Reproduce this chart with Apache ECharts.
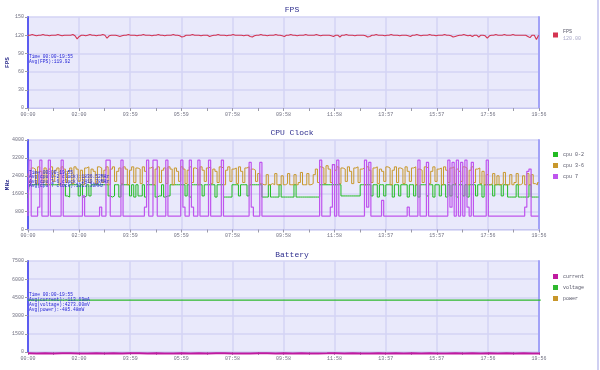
<!DOCTYPE html>
<html><head><meta charset="utf-8">
<script src="https://cdn.jsdelivr.net/npm/echarts@6/dist/echarts.min.js"></script>
<style>html,body{margin:0;padding:0;background:#fff}#c{width:600px;height:370px}</style>
</head><body><div id="c"></div>
<script>
const timeLabels = ['00:00','02:00','03:59','05:59','07:58','09:58','11:58','13:57','15:57','17:56','19:56'];
const totalSec = 1196;
const stepSec = 5;
const batteryStepSec = 20;

const fps = [
120,120,121,120,119,120,120,121,120,120,119,120,120,120,121,120,119,120,120,120,
120,121,119,114,118,120,120,119,120,121,120,120,119,120,120,121,120,115,119,120,
120,120,119,118,119,120,120,121,120,120,120,119,120,120,121,120,120,120,119,120,
120,121,120,120,119,120,120,120,121,120,120,119,117,118,120,120,120,121,120,120,
120,119,120,120,120,118,119,120,120,121,120,120,120,119,120,120,121,120,120,120,
120,119,120,120,118,117,119,120,120,121,120,120,119,120,120,120,121,120,120,119,
118,120,120,121,120,120,119,120,120,120,121,120,120,120,120,121,120,119,120,120,
120,120,119,118,120,120,117,120,120,121,120,120,120,119,120,120,120,120,119,117,
118,120,120,121,120,120,120,119,120,120,121,120,120,120,119,120,120,120,119,118,
120,120,121,120,119,120,120,120,121,120,120,119,120,120,120,121,120,120,119,117,
118,119,120,120,121,120,119,120,118,120,120,117,120,120,119,115,119,120,120,121,
120,120,120,121,120,120,120,121,120,120,120,120,120,120,118,116,120,120,113,120];

const cpu02 = [
1400,2000,2000,2000,2000,2000,2000,2000,2000,2000,2000,2000,2000,2000,2000,2000,2000,2000,1500,1450,
2000,2000,2000,2000,1500,2000,1450,1500,2000,1500,2000,2000,2000,2000,2000,2000,2000,2000,1500,1450,
1500,2000,2000,1450,2000,2000,2000,2000,1500,2000,1450,2000,1500,1500,2000,1450,2000,2000,2000,2000,
1450,1500,1500,2000,1450,1500,1500,2000,2000,2000,2000,2000,2000,2000,1500,2000,1450,2000,2000,2000,
2000,2000,1500,2000,2000,2000,2000,2000,1450,2000,2000,2000,1450,1450,1450,1450,2000,2000,2000,1500,
2000,2000,2000,1500,2000,2000,2000,2000,2000,2000,1450,1450,1450,2000,1450,1450,1450,1450,2000,1450,
1450,1450,1450,1450,1450,2000,1450,1450,1450,1450,1450,1450,1450,1450,1450,1450,1450,2000,2000,2000,
2000,2000,2000,2000,2000,2000,2000,1500,1500,1500,1500,1500,1500,1500,1500,1500,2000,2000,2000,2000,
2000,1500,2000,2000,1450,2000,2000,1500,2000,2000,2000,1450,2000,2000,1500,2000,2000,2000,1450,2000,
2000,1500,2000,1450,2000,2000,2000,1500,2000,2000,1450,2000,2000,1500,2000,2000,1450,2000,1500,2000,
2000,1450,2000,2000,1500,2000,1450,2000,2000,2000,1500,2000,2000,1450,2000,2000,2000,2000,1500,2000,
2000,2000,1500,2000,2000,1450,1450,1450,1450,2000,1450,1450,1450,1450,1450,2000,1450,1450,1450,1450];

const cpu36 = [
2500,2100,2750,2700,2050,2800,2600,2100,2750,2000,2700,2800,2150,2650,2750,2000,2800,2700,2100,2600,
2750,2050,2800,2700,2150,2650,2000,2750,2800,2100,2700,2600,2050,2800,2750,2100,2650,2800,2000,2700,
2800,2150,2600,2750,2050,2800,2700,2000,2650,2800,2100,2750,2700,2050,2800,2600,2150,2750,2800,2000,
2700,2800,2100,2650,2750,2050,2800,2700,2000,2750,2600,2150,2800,2700,2050,2650,2800,2100,2750,2700,
2000,2800,2650,2150,2750,2800,2050,2700,2600,2100,2800,2750,2000,2650,2800,2150,2700,2750,2050,2800,
2600,2100,2750,2800,2000,2700,2650,2150,2500,2050,2000,2000,2450,2000,2050,2000,2500,2000,2000,2400,
2000,2050,2500,2000,2000,2450,2000,2100,2550,2000,2000,2500,2000,2050,2450,2700,2100,2800,2750,2050,
2850,2700,2100,2900,2650,2800,2050,2750,2700,2150,2800,2600,2050,2750,2800,2100,2700,2750,2000,2800,
2650,2100,2750,2800,2050,2700,2600,2150,2800,2750,2000,2650,2800,2100,2750,2700,2050,2800,2600,2150,
2750,2800,2000,2700,2650,2100,2800,2750,2050,2600,2800,2150,2700,2750,2000,2800,2650,2100,2750,2800,
2050,2700,2600,2150,2800,2750,2000,2650,2800,2100,2700,2750,2050,2600,2000,2450,2000,2050,2500,2000,
2400,2000,2050,2550,2000,2000,2450,2000,2100,2500,2000,2050,2400,2000,2500,2000,2450,2050,2000,2100];

const cpu7 = [
600,3100,600,600,600,1000,3100,600,600,600,3100,600,600,600,600,600,3100,600,600,600,
600,600,600,600,600,600,1500,600,600,600,600,600,600,600,1000,600,600,3100,3100,600,
600,600,600,600,3100,600,600,600,600,600,600,600,600,600,600,1000,3100,600,600,3100,
3100,600,600,600,600,3100,600,600,600,600,600,600,3100,1000,600,600,3100,1000,600,600,
3100,600,600,600,600,3100,600,600,600,600,600,3100,600,600,600,600,600,600,600,600,
600,600,600,600,3000,1000,600,600,600,3000,600,600,600,600,600,600,600,600,600,600,
600,600,600,600,600,600,600,600,600,600,600,600,600,600,600,600,600,3100,600,600,
600,600,1000,2900,600,3100,600,600,600,600,600,600,600,600,600,600,600,600,3100,1000,
3000,600,600,600,600,600,1300,600,600,600,600,600,600,600,600,600,600,600,1000,600,
600,600,600,3100,600,600,600,3000,600,600,600,600,600,600,600,600,600,3100,1000,3000,
600,3100,600,3000,600,3100,1000,600,3000,600,600,600,600,600,600,3100,600,600,600,600,
600,600,600,600,600,600,600,600,600,600,600,600,600,1000,2600,2700,600,600,600,600];

const current = [-112,-115,-110,-118,-113,-109,-116,-120,-111,-114,-108,-117,-113,-112,-119,-110,-115,-114,-111,-116,
-113,-118,-109,-112,-115,-114,-117,-110,-113,-116,-112,-115,-111,-118,-114,-113,-109,-116,-112,-115,
-117,-110,-114,-113,-118,-111,-115,-112,-116,-114,-110,-117,-113,-115,-112,-118,-111,-114,-113,-116,-114];
const voltage = [4275,4275,4274,4274,4274,4274,4273,4273,4273,4273,4273,4273,4273,4273,4273,4273,4273,4273,4273,4273,
4273,4273,4273,4273,4273,4273,4273,4273,4273,4273,4273,4273,4273,4273,4273,4273,4273,4273,4273,4273,
4273,4272,4272,4272,4272,4272,4272,4272,4272,4272,4272,4272,4272,4272,4272,4272,4272,4272,4272,4272,4272];
const power = [-479,-491,-470,-504,-483,-466,-496,-513,-474,-487,-461,-500,-483,-479,-508,-470,-491,-487,-474,-496,
-483,-504,-466,-479,-491,-487,-500,-470,-483,-496,-479,-491,-474,-504,-487,-483,-466,-496,-479,-491,
-500,-470,-487,-483,-504,-474,-491,-479,-496,-487,-470,-500,-483,-491,-479,-504,-474,-487,-483,-496,-487];

const fpsInfo = ['Time 00:00-19:55','Avg(FPS):119.92'];
const cpuInfo = ['Time 00:00-19:55','Avg(cpu 0-2 clock):1836.52MHz','Avg(cpu 3-6 clock):2419.78MHz','Avg(cpu 7 clock):1013.30MHz'];
const batInfo = ['Time 00:00-19:55','Avg(current):-113.69mA','Avg(voltage):4273.00mV','Avg(power):-485.48mW'];

const pairs = (arr, step) => arr.map((v, i) => [i * step, v]);

const chart = echarts.init(document.getElementById('c'), null, {renderer: 'canvas'});
const mono = '"Liberation Mono", "DejaVu Sans Mono", monospace';
const grids = [
  {left: 28, top: 17, width: 511, height: 91},
  {left: 28, top: 140, width: 511, height: 89.5},
  {left: 28, top: 261, width: 511, height: 91}
];
const yRanges = [[0,150,30],[0,4000,800],[0,7500,1500]];
const yNames = ['FPS','MHz',''];
const xInterval = totalSec / (timeLabels.length - 1);

const xAxes = grids.map((g, k) => ({
  type: 'value', gridIndex: k, min: 0, max: totalSec, interval: xInterval,
  axisLine: {show: true, lineStyle: {color: '#c6c6ef', width: 1}},
  axisTick: {show: true, length: 3, lineStyle: {color: '#9a9aa8'}},
  minorTick: {show: true, splitNumber: 2, length: 3, lineStyle: {color: '#9a9aa8'}},
  axisLabel: {fontSize: 5, color: '#707080', margin: 4, fontFamily: mono,
    formatter: v => timeLabels[Math.round(v / xInterval)] || ''},
  splitLine: {show: true, lineStyle: {color: '#d3d3f4', width: 1.5}}
}));
const yLeft = grids.map((g, k) => ({
  type: 'value', gridIndex: k, min: yRanges[k][0], max: yRanges[k][1], interval: yRanges[k][2],
  name: yNames[k], nameLocation: 'middle', nameGap: 18, nameMoveOverlap: false,
  nameTextStyle: {fontSize: 6, color: '#2a2a8a', fontWeight: 'bold', fontFamily: mono},
  axisLine: {show: true, lineStyle: {color: '#5c5cf0', width: 2}},
  axisTick: {show: true, length: 3, lineStyle: {color: '#9a9aa8'}},
  axisLabel: {fontSize: 5, color: '#707080', margin: 4, fontFamily: mono, formatter: v => String(v)},
  splitLine: {show: true, lineStyle: {color: '#d3d3f4', width: 1.5}}
}));
const yRight = grids.map((g, k) => ({
  type: 'value', gridIndex: k, position: 'right', min: yRanges[k][0], max: yRanges[k][1],
  axisLine: {show: true, lineStyle: {color: '#a2a2f7', width: 2}},
  axisTick: {show: false}, axisLabel: {show: false}, splitLine: {show: false}
}));

const lineS = (name, data, step, xi, yi, color, w, extra) => Object.assign({
  type: 'line', name, data: pairs(data, step), xAxisIndex: xi, yAxisIndex: yi,
  showSymbol: false, symbol: 'none', lineStyle: {color, width: w}, itemStyle: {color},
  emphasis: {disabled: true}
}, extra || {});

const legendBase = {
  orient: 'vertical', left: 548, itemWidth: 5, itemHeight: 5, icon: 'rect', itemGap: 6,
  textStyle: {fontSize: 5, color: '#555566', fontFamily: mono}
};

const fpsLegendValue = fps[fps.length - 1].toFixed(2);

const infoText = (lines, left, top, lh) => ({
  type: 'text', left, top, z: 100,
  style: {text: lines.join('\n'), font: '4.6px ' + mono, fill: '#2323d6', lineHeight: lh}
});

chart.setOption({
  animation: false,
  backgroundColor: '#ffffff',
  title: [
    {text: 'FPS', left: 287, top: 1, textAlign: 'center', textStyle: {fontSize: 8, color: '#2e2e8e', fontWeight: 'normal', fontFamily: mono}},
    {text: 'CPU Clock', left: 287, top: 124, textAlign: 'center', textStyle: {fontSize: 8, color: '#2e2e8e', fontWeight: 'normal', fontFamily: mono}},
    {text: 'Battery', left: 287, top: 246, textAlign: 'center', textStyle: {fontSize: 8, color: '#2e2e8e', fontWeight: 'normal', fontFamily: mono}}
  ],
  grid: grids.map(g => Object.assign({show: true, backgroundColor: '#e9e9fb', borderWidth: 0, containLabel: false, outerBoundsMode: 'none'}, g)),
  xAxis: xAxes,
  yAxis: yLeft.concat(yRight),
  legend: [
    Object.assign({}, legendBase, {top: 24, data: ['FPS'],
      formatter: n => '{a|' + n + '}\n{b|' + fpsLegendValue + '}',
      textStyle: {fontSize: 5, color: '#555566', fontFamily: mono,
        rich: {a: {fontSize: 5, color: '#555566', lineHeight: 7}, b: {fontSize: 5, color: '#a8a8c8', lineHeight: 7}}}}),
    Object.assign({}, legendBase, {top: 147, data: ['cpu 0-2','cpu 3-6','cpu 7']}),
    Object.assign({}, legendBase, {top: 269, data: ['current','voltage','power']})
  ],
  graphic: [
    infoText(fpsInfo, 29, 54, 4.8),
    infoText(cpuInfo, 29, 170, 4.5),
    infoText(batInfo, 29, 292.5, 5),
    {type: 'rect', left: 597, top: 0, shape: {width: 2, height: 370}, style: {fill: '#d0d0f2'}}
  ],
  series: [
    lineS('FPS', fps, stepSec, 0, 0, '#d43452', 1.1),
    lineS('cpu 0-2', cpu02, stepSec, 1, 1, '#22bb22', 1, {step: 'middle'}),
    lineS('cpu 3-6', cpu36, stepSec, 1, 1, '#c8982c', 1, {step: 'middle'}),
    lineS('cpu 7', cpu7, stepSec, 1, 1, '#bf55ee', 1.2, {step: 'middle'}),
    lineS('current', current, batteryStepSec, 2, 2, '#c01aa0', 2, {clip: false}),
    lineS('voltage', voltage, batteryStepSec, 2, 2, '#2eb82e', 1.2),
    lineS('power', power, batteryStepSec, 2, 2, '#c8962a', 1.2)
  ]
});
</script>
</body></html>
